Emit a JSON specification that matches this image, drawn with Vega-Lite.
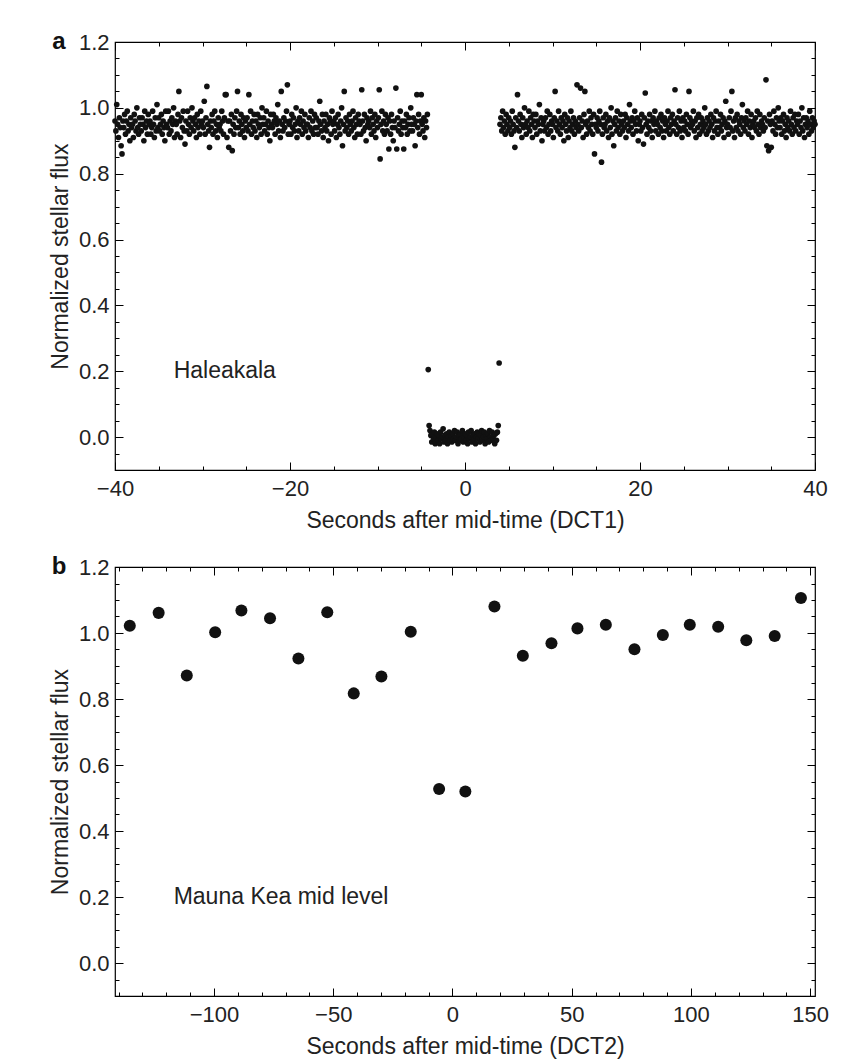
{
"$schema": "https://vega.github.io/schema/vega-lite/v6.json",
"background": "white",
"padding": {"left": 48, "top": 29, "right": 12, "bottom": 0},
"spacing": 21,
"config": {
 "view": {"stroke": "#000", "strokeWidth": 1.2},
 "axis": {"labelFont": "Liberation Sans", "labelFontSize": 22, "labelColor": "#222", "titleFont": "Liberation Sans", "titleFontSize": 23, "titleFontWeight": "normal", "titleColor": "#222", "tickColor": "#000", "tickWidth": 1, "domain": false, "grid": false, "labelOverlap": false, "labelFlush": false, "labelBound": false},
 "text": {"font": "Liberation Sans"}
},
"datasets": {
"a": [
{"t":-40,"f":0.96},{"t":-39.9,"f":0.93},{"t":-39.8,"f":1.01},{"t":-39.7,"f":0.95},{"t":-39.6,"f":0.91},{"t":-39.5,"f":0.97},{"t":-39.4,"f":0.94},{"t":-39.3,"f":0.885},{"t":-39.2,"f":0.86},{"t":-39.1,"f":0.96},
{"t":-39,"f":0.94},{"t":-38.9,"f":0.98},{"t":-38.8,"f":0.92},{"t":-38.7,"f":0.96},{"t":-38.6,"f":0.99},{"t":-38.5,"f":0.93},{"t":-38.4,"f":0.95},{"t":-38.3,"f":0.9},{"t":-38.2,"f":0.97},{"t":-38.1,"f":0.94},
{"t":-38,"f":0.95},{"t":-37.9,"f":0.91},{"t":-37.8,"f":0.98},{"t":-37.7,"f":0.96},{"t":-37.6,"f":0.93},{"t":-37.5,"f":1.0},{"t":-37.4,"f":0.94},{"t":-37.3,"f":0.92},{"t":-37.2,"f":0.97},{"t":-37.1,"f":0.95},
{"t":-37,"f":0.93},{"t":-36.9,"f":0.97},{"t":-36.8,"f":0.95},{"t":-36.7,"f":0.9},{"t":-36.6,"f":0.99},{"t":-36.5,"f":0.94},{"t":-36.4,"f":0.96},{"t":-36.3,"f":0.92},{"t":-36.2,"f":0.98},{"t":-36.1,"f":0.95},
{"t":-36,"f":0.96},{"t":-35.9,"f":0.92},{"t":-35.8,"f":0.94},{"t":-35.7,"f":0.99},{"t":-35.6,"f":0.95},{"t":-35.5,"f":0.91},{"t":-35.4,"f":0.97},{"t":-35.3,"f":0.93},{"t":-35.2,"f":1.01},{"t":-35.1,"f":0.94},
{"t":-35,"f":0.97},{"t":-34.9,"f":0.93},{"t":-34.8,"f":0.95},{"t":-34.7,"f":0.98},{"t":-34.6,"f":0.92},{"t":-34.5,"f":0.96},{"t":-34.4,"f":0.94},{"t":-34.3,"f":0.9},{"t":-34.2,"f":0.99},{"t":-34.1,"f":0.95},
{"t":-34,"f":0.94},{"t":-33.9,"f":0.99},{"t":-33.8,"f":0.92},{"t":-33.7,"f":0.96},{"t":-33.6,"f":0.93},{"t":-33.5,"f":0.97},{"t":-33.4,"f":0.95},{"t":-33.3,"f":1.0},{"t":-33.2,"f":0.91},{"t":-33.1,"f":0.96},
{"t":-33,"f":0.95},{"t":-32.9,"f":0.92},{"t":-32.8,"f":0.98},{"t":-32.7,"f":1.05},{"t":-32.6,"f":0.96},{"t":-32.5,"f":0.91},{"t":-32.4,"f":0.97},{"t":-32.3,"f":0.94},{"t":-32.2,"f":0.99},{"t":-32.1,"f":0.93},
{"t":-32,"f":0.89},{"t":-31.9,"f":0.96},{"t":-31.8,"f":0.93},{"t":-31.7,"f":0.99},{"t":-31.6,"f":0.95},{"t":-31.5,"f":0.92},{"t":-31.4,"f":0.97},{"t":-31.3,"f":0.94},{"t":-31.2,"f":1.0},{"t":-31.1,"f":0.96},
{"t":-31,"f":0.93},{"t":-30.9,"f":0.97},{"t":-30.8,"f":0.95},{"t":-30.7,"f":0.91},{"t":-30.6,"f":0.98},{"t":-30.5,"f":0.94},{"t":-30.4,"f":0.96},{"t":-30.3,"f":0.92},{"t":-30.2,"f":0.99},{"t":-30.1,"f":0.95},
{"t":-30,"f":0.96},{"t":-29.9,"f":0.94},{"t":-29.8,"f":1.02},{"t":-29.7,"f":0.92},{"t":-29.6,"f":0.97},{"t":-29.5,"f":1.065},{"t":-29.4,"f":0.95},{"t":-29.3,"f":0.93},{"t":-29.2,"f":0.88},{"t":-29.1,"f":0.96},
{"t":-29,"f":0.94},{"t":-28.9,"f":0.98},{"t":-28.8,"f":0.92},{"t":-28.7,"f":0.96},{"t":-28.6,"f":0.99},{"t":-28.5,"f":0.93},{"t":-28.4,"f":0.95},{"t":-28.3,"f":0.91},{"t":-28.2,"f":0.97},{"t":-28.1,"f":0.94},
{"t":-28,"f":0.95},{"t":-27.9,"f":0.93},{"t":-27.8,"f":0.99},{"t":-27.7,"f":0.96},{"t":-27.6,"f":0.92},{"t":-27.5,"f":0.97},{"t":-27.4,"f":1.04},{"t":-27.3,"f":1.04},{"t":-27.2,"f":0.91},{"t":-27.1,"f":0.96},
{"t":-27,"f":0.88},{"t":-26.9,"f":0.96},{"t":-26.8,"f":0.93},{"t":-26.7,"f":0.98},{"t":-26.6,"f":0.87},{"t":-26.5,"f":0.95},{"t":-26.4,"f":0.92},{"t":-26.3,"f":0.97},{"t":-26.2,"f":0.94},{"t":-26.1,"f":0.99},
{"t":-26,"f":1.05},{"t":-25.9,"f":0.94},{"t":-25.8,"f":0.96},{"t":-25.7,"f":0.92},{"t":-25.6,"f":0.98},{"t":-25.5,"f":0.95},{"t":-25.4,"f":0.93},{"t":-25.3,"f":0.97},{"t":-25.2,"f":0.91},{"t":-25.1,"f":0.96},
{"t":-25,"f":0.94},{"t":-24.9,"f":0.97},{"t":-24.8,"f":0.93},{"t":-24.7,"f":1.04},{"t":-24.6,"f":0.95},{"t":-24.5,"f":0.99},{"t":-24.4,"f":0.92},{"t":-24.3,"f":0.96},{"t":-24.2,"f":0.94},{"t":-24.1,"f":0.98},
{"t":-24,"f":0.93},{"t":-23.9,"f":0.96},{"t":-23.8,"f":0.91},{"t":-23.7,"f":0.98},{"t":-23.6,"f":0.95},{"t":-23.5,"f":0.94},{"t":-23.4,"f":0.97},{"t":-23.3,"f":0.92},{"t":-23.2,"f":1.0},{"t":-23.1,"f":0.95},
{"t":-23,"f":0.97},{"t":-22.9,"f":0.93},{"t":-22.8,"f":0.95},{"t":-22.7,"f":0.99},{"t":-22.6,"f":0.92},{"t":-22.5,"f":0.96},{"t":-22.4,"f":0.94},{"t":-22.3,"f":0.9},{"t":-22.2,"f":0.98},{"t":-22.1,"f":0.95},
{"t":-22,"f":0.94},{"t":-21.9,"f":0.98},{"t":-21.8,"f":0.96},{"t":-21.7,"f":0.92},{"t":-21.6,"f":0.97},{"t":-21.5,"f":0.95},{"t":-21.4,"f":1.01},{"t":-21.3,"f":0.93},{"t":-21.2,"f":0.96},{"t":-21.1,"f":0.91},
{"t":-21,"f":1.05},{"t":-20.9,"f":0.95},{"t":-20.8,"f":0.93},{"t":-20.7,"f":0.97},{"t":-20.6,"f":0.94},{"t":-20.5,"f":0.96},{"t":-20.4,"f":0.99},{"t":-20.3,"f":1.07},{"t":-20.2,"f":0.92},{"t":-20.1,"f":0.95},
{"t":-20,"f":0.96},{"t":-19.9,"f":0.92},{"t":-19.8,"f":0.98},{"t":-19.7,"f":0.94},{"t":-19.6,"f":0.97},{"t":-19.5,"f":0.93},{"t":-19.4,"f":0.95},{"t":-19.3,"f":1.0},{"t":-19.2,"f":0.91},{"t":-19.1,"f":0.96},
{"t":-19,"f":0.93},{"t":-18.9,"f":0.97},{"t":-18.8,"f":0.95},{"t":-18.7,"f":0.99},{"t":-18.6,"f":0.92},{"t":-18.5,"f":0.96},{"t":-18.4,"f":0.94},{"t":-18.3,"f":0.98},{"t":-18.2,"f":0.93},{"t":-18.1,"f":0.95},
{"t":-18,"f":0.95},{"t":-17.9,"f":0.91},{"t":-17.8,"f":0.97},{"t":-17.7,"f":0.94},{"t":-17.6,"f":0.99},{"t":-17.5,"f":0.93},{"t":-17.4,"f":0.96},{"t":-17.3,"f":0.92},{"t":-17.2,"f":0.98},{"t":-17.1,"f":0.94},
{"t":-17,"f":0.97},{"t":-16.9,"f":0.94},{"t":-16.8,"f":0.92},{"t":-16.7,"f":0.96},{"t":-16.6,"f":1.02},{"t":-16.5,"f":0.95},{"t":-16.4,"f":0.93},{"t":-16.3,"f":0.98},{"t":-16.2,"f":0.91},{"t":-16.1,"f":0.96},
{"t":-16,"f":0.94},{"t":-15.9,"f":0.98},{"t":-15.8,"f":0.93},{"t":-15.7,"f":0.95},{"t":-15.6,"f":0.9},{"t":-15.5,"f":0.97},{"t":-15.4,"f":0.96},{"t":-15.3,"f":0.92},{"t":-15.2,"f":0.99},{"t":-15.1,"f":0.95},
{"t":-15,"f":0.96},{"t":-14.9,"f":0.93},{"t":-14.8,"f":0.97},{"t":-14.7,"f":0.91},{"t":-14.6,"f":0.95},{"t":-14.5,"f":0.98},{"t":-14.4,"f":0.94},{"t":-14.3,"f":0.92},{"t":-14.2,"f":0.96},{"t":-14.1,"f":1.0},
{"t":-14,"f":0.885},{"t":-13.9,"f":0.95},{"t":-13.8,"f":1.05},{"t":-13.7,"f":0.93},{"t":-13.6,"f":0.97},{"t":-13.5,"f":0.94},{"t":-13.4,"f":0.96},{"t":-13.3,"f":0.92},{"t":-13.2,"f":0.98},{"t":-13.1,"f":0.95},
{"t":-13,"f":0.93},{"t":-12.9,"f":0.96},{"t":-12.8,"f":0.99},{"t":-12.7,"f":0.94},{"t":-12.6,"f":0.91},{"t":-12.5,"f":0.97},{"t":-12.4,"f":0.95},{"t":-12.3,"f":0.92},{"t":-12.2,"f":0.98},{"t":-12.1,"f":0.96},
{"t":-12,"f":0.95},{"t":-11.9,"f":0.92},{"t":-11.8,"f":1.055},{"t":-11.7,"f":0.96},{"t":-11.6,"f":0.93},{"t":-11.5,"f":0.98},{"t":-11.4,"f":0.94},{"t":-11.3,"f":0.9},{"t":-11.2,"f":0.97},{"t":-11.1,"f":0.95},
{"t":-11,"f":0.96},{"t":-10.9,"f":0.94},{"t":-10.8,"f":0.99},{"t":-10.7,"f":0.92},{"t":-10.6,"f":0.97},{"t":-10.5,"f":0.95},{"t":-10.4,"f":0.93},{"t":-10.3,"f":0.98},{"t":-10.2,"f":0.91},{"t":-10.1,"f":0.96},
{"t":-10,"f":0.94},{"t":-9.9,"f":0.97},{"t":-9.8,"f":1.055},{"t":-9.7,"f":0.845},{"t":-9.6,"f":0.95},{"t":-9.5,"f":0.99},{"t":-9.4,"f":0.93},{"t":-9.3,"f":0.96},{"t":-9.2,"f":0.92},{"t":-9.1,"f":0.98},
{"t":-9,"f":0.95},{"t":-8.9,"f":0.93},{"t":-8.8,"f":0.97},{"t":-8.7,"f":0.875},{"t":-8.6,"f":0.96},{"t":-8.5,"f":0.92},{"t":-8.4,"f":0.98},{"t":-8.3,"f":0.94},{"t":-8.2,"f":0.9},{"t":-8.1,"f":0.96},
{"t":-8,"f":0.94},{"t":-7.9,"f":1.06},{"t":-7.8,"f":0.875},{"t":-7.7,"f":0.97},{"t":-7.6,"f":0.93},{"t":-7.5,"f":0.95},{"t":-7.4,"f":0.99},{"t":-7.3,"f":0.92},{"t":-7.2,"f":0.96},{"t":-7.1,"f":0.94},
{"t":-7,"f":0.875},{"t":-6.9,"f":0.96},{"t":-6.8,"f":0.94},{"t":-6.7,"f":0.98},{"t":-6.6,"f":0.92},{"t":-6.5,"f":0.95},{"t":-6.4,"f":0.97},{"t":-6.3,"f":0.93},{"t":-6.2,"f":1.0},{"t":-6.1,"f":0.95},
{"t":-6,"f":0.93},{"t":-5.9,"f":0.97},{"t":-5.8,"f":0.95},{"t":-5.7,"f":0.885},{"t":-5.6,"f":0.96},{"t":-5.5,"f":1.04},{"t":-5.4,"f":0.94},{"t":-5.3,"f":0.98},{"t":-5.2,"f":0.92},{"t":-5.1,"f":0.96},
{"t":-5,"f":1.04},{"t":-4.9,"f":0.95},{"t":-4.8,"f":0.93},{"t":-4.7,"f":0.97},{"t":-4.6,"f":0.91},{"t":-4.5,"f":0.96},{"t":-4.4,"f":0.94},{"t":-4.3,"f":0.98},
{"t":-4.2,"f":0.205},
{"t":-4.1,"f":0.035},{"t":-4,"f":0.02},{"t":-3.9,"f":0.005},{"t":-3.8,"f":-0.015},{"t":-3.7,"f":0.01},{"t":-3.6,"f":-0.005},{"t":-3.5,"f":0.015},{"t":-3.4,"f":-0.02},{"t":-3.3,"f":0},{"t":-3.2,"f":0.01},
{"t":-3.1,"f":-0.01},{"t":-3,"f":0.005},{"t":-2.9,"f":-0.02},{"t":-2.8,"f":0.015},{"t":-2.7,"f":-0.005},{"t":-2.6,"f":0},{"t":-2.5,"f":0.025},{"t":-2.4,"f":-0.015},{"t":-2.3,"f":0.005},{"t":-2.2,"f":-0.01},
{"t":-2.1,"f":0.01},{"t":-2,"f":-0.02},{"t":-1.9,"f":0},{"t":-1.8,"f":0.015},{"t":-1.7,"f":-0.01},{"t":-1.6,"f":0.005},{"t":-1.5,"f":-0.015},{"t":-1.4,"f":0.01},{"t":-1.3,"f":-0.005},{"t":-1.2,"f":0.02},
{"t":-1.1,"f":-0.01},{"t":-1,"f":0},{"t":-0.9,"f":0.015},{"t":-0.8,"f":-0.02},{"t":-0.7,"f":0.005},{"t":-0.6,"f":-0.01},{"t":-0.5,"f":0.01},{"t":-0.4,"f":-0.005},{"t":-0.3,"f":0.02},{"t":-0.2,"f":-0.015},
{"t":-0.1,"f":0},{"t":0,"f":0.01},{"t":0.1,"f":-0.01},{"t":0.2,"f":0.005},{"t":0.3,"f":-0.02},{"t":0.4,"f":0.015},{"t":0.5,"f":-0.005},{"t":0.6,"f":0},{"t":0.7,"f":0.02},{"t":0.8,"f":-0.015},
{"t":0.9,"f":0.005},{"t":1,"f":-0.01},{"t":1.1,"f":0.01},{"t":1.2,"f":-0.02},{"t":1.3,"f":0},{"t":1.4,"f":0.015},{"t":1.5,"f":-0.005},{"t":1.6,"f":0.01},{"t":1.7,"f":-0.015},{"t":1.8,"f":0.005},
{"t":1.9,"f":0.02},{"t":2,"f":-0.01},{"t":2.1,"f":0},{"t":2.2,"f":0.015},{"t":2.3,"f":-0.02},{"t":2.4,"f":0.005},{"t":2.5,"f":-0.005},{"t":2.6,"f":0.01},{"t":2.7,"f":-0.015},{"t":2.8,"f":0.02},
{"t":2.9,"f":0},{"t":3,"f":-0.01},{"t":3.1,"f":0.015},{"t":3.2,"f":-0.005},{"t":3.3,"f":0.005},{"t":3.4,"f":-0.02},{"t":3.5,"f":0.01},{"t":3.6,"f":-0.01},{"t":3.7,"f":0.015},{"t":3.8,"f":0.035},
{"t":3.9,"f":0.225},
{"t":4,"f":0.95},{"t":4.1,"f":0.97},{"t":4.2,"f":0.93},{"t":4.3,"f":0.99},{"t":4.4,"f":0.94},{"t":4.5,"f":0.96},{"t":4.6,"f":0.92},{"t":4.7,"f":0.98},{"t":4.8,"f":0.95},{"t":4.9,"f":0.93},
{"t":5,"f":0.97},{"t":5.1,"f":0.94},{"t":5.2,"f":0.96},{"t":5.3,"f":0.92},{"t":5.4,"f":0.99},{"t":5.5,"f":0.95},{"t":5.6,"f":0.93},{"t":5.7,"f":0.88},{"t":5.8,"f":0.97},{"t":5.9,"f":0.94},
{"t":6,"f":1.04},{"t":6.1,"f":0.96},{"t":6.2,"f":0.93},{"t":6.3,"f":0.98},{"t":6.4,"f":0.95},{"t":6.5,"f":0.91},{"t":6.6,"f":0.97},{"t":6.7,"f":0.94},{"t":6.8,"f":1.0},{"t":6.9,"f":0.95},
{"t":7,"f":0.92},{"t":7.1,"f":0.96},{"t":7.2,"f":0.94},{"t":7.3,"f":0.99},{"t":7.4,"f":0.93},{"t":7.5,"f":0.97},{"t":7.6,"f":0.95},{"t":7.7,"f":0.91},{"t":7.8,"f":0.98},{"t":7.9,"f":0.96},
{"t":8,"f":0.94},{"t":8.1,"f":0.98},{"t":8.2,"f":0.92},{"t":8.3,"f":0.96},{"t":8.4,"f":0.95},{"t":8.5,"f":1.01},{"t":8.6,"f":0.93},{"t":8.7,"f":0.97},{"t":8.8,"f":0.9},{"t":8.9,"f":0.95},
{"t":9,"f":0.96},{"t":9.1,"f":0.93},{"t":9.2,"f":0.97},{"t":9.3,"f":0.94},{"t":9.4,"f":0.99},{"t":9.5,"f":0.92},{"t":9.6,"f":0.95},{"t":9.7,"f":0.98},{"t":9.8,"f":0.93},{"t":9.9,"f":0.96},
{"t":10,"f":0.95},{"t":10.1,"f":0.91},{"t":10.2,"f":0.97},{"t":10.3,"f":1.05},{"t":10.4,"f":0.94},{"t":10.5,"f":0.96},{"t":10.6,"f":0.93},{"t":10.7,"f":0.99},{"t":10.8,"f":0.95},{"t":10.9,"f":0.92},
{"t":11,"f":0.97},{"t":11.1,"f":0.94},{"t":11.2,"f":0.96},{"t":11.3,"f":0.9},{"t":11.4,"f":0.98},{"t":11.5,"f":0.95},{"t":11.6,"f":0.93},{"t":11.7,"f":0.97},{"t":11.8,"f":0.91},{"t":11.9,"f":0.96},
{"t":12,"f":0.94},{"t":12.1,"f":0.99},{"t":12.2,"f":0.93},{"t":12.3,"f":0.95},{"t":12.4,"f":0.97},{"t":12.5,"f":0.92},{"t":12.6,"f":0.96},{"t":12.7,"f":0.94},{"t":12.8,"f":1.07},{"t":12.9,"f":0.95},
{"t":13,"f":0.93},{"t":13.1,"f":0.97},{"t":13.2,"f":1.06},{"t":13.3,"f":0.94},{"t":13.4,"f":0.96},{"t":13.5,"f":0.91},{"t":13.6,"f":0.98},{"t":13.7,"f":1.05},{"t":13.8,"f":0.95},{"t":13.9,"f":0.92},
{"t":14,"f":0.96},{"t":14.1,"f":0.94},{"t":14.2,"f":0.99},{"t":14.3,"f":0.93},{"t":14.4,"f":0.97},{"t":14.5,"f":0.95},{"t":14.6,"f":0.92},{"t":14.7,"f":0.98},{"t":14.8,"f":0.86},{"t":14.9,"f":0.95},
{"t":15,"f":0.94},{"t":15.1,"f":0.97},{"t":15.2,"f":0.93},{"t":15.3,"f":0.96},{"t":15.4,"f":0.99},{"t":15.5,"f":0.95},{"t":15.6,"f":0.835},{"t":15.7,"f":0.92},{"t":15.8,"f":0.97},{"t":15.9,"f":0.94},
{"t":16,"f":0.95},{"t":16.1,"f":0.98},{"t":16.2,"f":0.93},{"t":16.3,"f":0.96},{"t":16.4,"f":0.91},{"t":16.5,"f":0.97},{"t":16.6,"f":0.94},{"t":16.7,"f":1.0},{"t":16.8,"f":0.92},{"t":16.9,"f":0.96},
{"t":17,"f":0.885},{"t":17.1,"f":0.95},{"t":17.2,"f":0.97},{"t":17.3,"f":0.93},{"t":17.4,"f":0.99},{"t":17.5,"f":0.94},{"t":17.6,"f":0.96},{"t":17.7,"f":0.92},{"t":17.8,"f":0.98},{"t":17.9,"f":0.95},
{"t":18,"f":0.93},{"t":18.1,"f":0.96},{"t":18.2,"f":0.94},{"t":18.3,"f":0.98},{"t":18.4,"f":0.91},{"t":18.5,"f":0.97},{"t":18.6,"f":0.95},{"t":18.7,"f":0.93},{"t":18.8,"f":1.01},{"t":18.9,"f":0.96},
{"t":19,"f":0.94},{"t":19.1,"f":0.97},{"t":19.2,"f":0.92},{"t":19.3,"f":0.96},{"t":19.4,"f":0.99},{"t":19.5,"f":0.95},{"t":19.6,"f":0.93},{"t":19.7,"f":0.97},{"t":19.8,"f":0.9},{"t":19.9,"f":0.95},
{"t":20,"f":0.96},{"t":20.1,"f":0.93},{"t":20.2,"f":0.98},{"t":20.3,"f":0.94},{"t":20.4,"f":0.89},{"t":20.5,"f":0.97},{"t":20.6,"f":1.045},{"t":20.7,"f":0.95},{"t":20.8,"f":0.92},{"t":20.9,"f":0.96},
{"t":21,"f":0.94},{"t":21.1,"f":0.98},{"t":21.2,"f":0.93},{"t":21.3,"f":0.96},{"t":21.4,"f":0.91},{"t":21.5,"f":0.97},{"t":21.6,"f":0.95},{"t":21.7,"f":0.99},{"t":21.8,"f":0.93},{"t":21.9,"f":0.96},
{"t":22,"f":0.95},{"t":22.1,"f":0.92},{"t":22.2,"f":0.97},{"t":22.3,"f":0.94},{"t":22.4,"f":0.98},{"t":22.5,"f":0.93},{"t":22.6,"f":0.96},{"t":22.7,"f":0.91},{"t":22.8,"f":0.97},{"t":22.9,"f":0.95},
{"t":23,"f":0.93},{"t":23.1,"f":0.96},{"t":23.2,"f":0.99},{"t":23.3,"f":0.94},{"t":23.4,"f":0.92},{"t":23.5,"f":0.97},{"t":23.6,"f":0.95},{"t":23.7,"f":0.98},{"t":23.8,"f":0.93},{"t":23.9,"f":0.96},
{"t":24,"f":1.055},{"t":24.1,"f":0.95},{"t":24.2,"f":0.92},{"t":24.3,"f":0.97},{"t":24.4,"f":0.94},{"t":24.5,"f":0.99},{"t":24.6,"f":0.93},{"t":24.7,"f":0.96},{"t":24.8,"f":0.91},{"t":24.9,"f":0.97},
{"t":25,"f":0.94},{"t":25.1,"f":0.96},{"t":25.2,"f":0.93},{"t":25.3,"f":0.98},{"t":25.4,"f":0.95},{"t":25.5,"f":0.92},{"t":25.6,"f":1.05},{"t":25.7,"f":0.97},{"t":25.8,"f":0.94},{"t":25.9,"f":0.96},
{"t":26,"f":0.95},{"t":26.1,"f":0.99},{"t":26.2,"f":0.93},{"t":26.3,"f":0.96},{"t":26.4,"f":0.91},{"t":26.5,"f":0.97},{"t":26.6,"f":0.94},{"t":26.7,"f":0.98},{"t":26.8,"f":0.92},{"t":26.9,"f":0.95},
{"t":27,"f":0.97},{"t":27.1,"f":0.93},{"t":27.2,"f":0.96},{"t":27.3,"f":0.94},{"t":27.4,"f":1.0},{"t":27.5,"f":0.95},{"t":27.6,"f":0.92},{"t":27.7,"f":0.97},{"t":27.8,"f":0.93},{"t":27.9,"f":0.96},
{"t":28,"f":0.94},{"t":28.1,"f":0.98},{"t":28.2,"f":0.95},{"t":28.3,"f":0.91},{"t":28.4,"f":0.97},{"t":28.5,"f":0.93},{"t":28.6,"f":0.96},{"t":28.7,"f":0.99},{"t":28.8,"f":0.94},{"t":28.9,"f":0.92},
{"t":29,"f":0.96},{"t":29.1,"f":0.94},{"t":29.2,"f":0.98},{"t":29.3,"f":0.93},{"t":29.4,"f":0.95},{"t":29.5,"f":0.97},{"t":29.6,"f":0.91},{"t":29.7,"f":0.96},{"t":29.8,"f":1.02},{"t":29.9,"f":0.94},
{"t":30,"f":0.95},{"t":30.1,"f":0.92},{"t":30.2,"f":0.97},{"t":30.3,"f":0.94},{"t":30.4,"f":0.99},{"t":30.5,"f":1.05},{"t":30.6,"f":0.93},{"t":30.7,"f":0.96},{"t":30.8,"f":0.91},{"t":30.9,"f":0.97},
{"t":31,"f":0.94},{"t":31.1,"f":0.98},{"t":31.2,"f":0.93},{"t":31.3,"f":0.96},{"t":31.4,"f":0.95},{"t":31.5,"f":0.92},{"t":31.6,"f":0.97},{"t":31.7,"f":1.01},{"t":31.8,"f":0.94},{"t":31.9,"f":0.96},
{"t":32,"f":0.93},{"t":32.1,"f":0.97},{"t":32.2,"f":0.95},{"t":32.3,"f":0.99},{"t":32.4,"f":0.92},{"t":32.5,"f":0.96},{"t":32.6,"f":0.94},{"t":32.7,"f":0.98},{"t":32.8,"f":0.91},{"t":32.9,"f":0.95},
{"t":33,"f":0.96},{"t":33.1,"f":0.94},{"t":33.2,"f":0.97},{"t":33.3,"f":0.93},{"t":33.4,"f":0.99},{"t":33.5,"f":0.95},{"t":33.6,"f":0.92},{"t":33.7,"f":0.98},{"t":33.8,"f":0.94},{"t":33.9,"f":0.96},
{"t":34,"f":0.95},{"t":34.1,"f":0.93},{"t":34.2,"f":0.97},{"t":34.3,"f":0.94},{"t":34.4,"f":1.085},{"t":34.5,"f":0.885},{"t":34.6,"f":0.96},{"t":34.7,"f":0.87},{"t":34.8,"f":0.98},{"t":34.9,"f":0.95},
{"t":35,"f":0.88},{"t":35.1,"f":0.96},{"t":35.2,"f":0.93},{"t":35.3,"f":0.99},{"t":35.4,"f":0.95},{"t":35.5,"f":0.92},{"t":35.6,"f":0.97},{"t":35.7,"f":0.94},{"t":35.8,"f":1.0},{"t":35.9,"f":0.96},
{"t":36,"f":0.94},{"t":36.1,"f":0.97},{"t":36.2,"f":0.92},{"t":36.3,"f":0.96},{"t":36.4,"f":0.98},{"t":36.5,"f":0.93},{"t":36.6,"f":0.95},{"t":36.7,"f":0.91},{"t":36.8,"f":0.97},{"t":36.9,"f":0.94},
{"t":37,"f":0.96},{"t":37.1,"f":0.93},{"t":37.2,"f":0.99},{"t":37.3,"f":0.95},{"t":37.4,"f":0.92},{"t":37.5,"f":0.97},{"t":37.6,"f":0.94},{"t":37.7,"f":0.98},{"t":37.8,"f":0.93},{"t":37.9,"f":0.96},
{"t":38,"f":0.95},{"t":38.1,"f":0.98},{"t":38.2,"f":0.92},{"t":38.3,"f":0.96},{"t":38.4,"f":0.94},{"t":38.5,"f":1.0},{"t":38.6,"f":0.93},{"t":38.7,"f":0.97},{"t":38.8,"f":0.91},{"t":38.9,"f":0.95},
{"t":39,"f":0.97},{"t":39.1,"f":0.94},{"t":39.2,"f":0.96},{"t":39.3,"f":0.92},{"t":39.4,"f":0.99},{"t":39.5,"f":0.95},{"t":39.6,"f":0.93},{"t":39.7,"f":0.97},{"t":39.8,"f":0.94},{"t":39.9,"f":0.96},
{"t":40,"f":0.95}
],
"b": [
{"t":-135.3,"f":1.022},{"t":-123.2,"f":1.061},{"t":-111.4,"f":0.871},{"t":-99.5,"f":1.002},{"t":-88.5,"f":1.068},{"t":-76.5,"f":1.045},{"t":-64.6,"f":0.923},{"t":-52.5,"f":1.063},{"t":-41.4,"f":0.817},{"t":-29.8,"f":0.868},{"t":-17.5,"f":1.004},{"t":-5.6,"f":0.527},{"t":5.4,"f":0.52},{"t":17.6,"f":1.08},{"t":29.5,"f":0.931},{"t":41.5,"f":0.969},{"t":52.4,"f":1.014},{"t":64.3,"f":1.025},{"t":76.3,"f":0.951},{"t":88.2,"f":0.994},{"t":99.5,"f":1.025},{"t":111.4,"f":1.019},{"t":123.2,"f":0.978},{"t":135.1,"f":0.991},{"t":146.1,"f":1.106}
]
},
"vconcat": [
{
 "width": 700, "height": 428,
 "resolve": {"axis": {"x": "independent", "y": "independent"}},
 "layer": [
  {
   "data": {"name": "a"},
   "mark": {"type": "circle", "size": 32, "color": "#111", "opacity": 1},
   "encoding": {
    "x": {"field": "t", "type": "quantitative", "scale": {"domain": [-40, 40], "nice": false, "zero": false},
     "axis": {"orient": "bottom", "values": [-40,-35,-30,-25,-20,-15,-10,-5,0,5,10,15,20,25,30,35,40],
      "tickSize": {"condition": {"test": "datum.value % 20 === 0", "value": -8}, "value": -4},
      "labelExpr": "datum.value % 20 === 0 ? datum.label : ''", "labelPadding": 16, "title": "Seconds after mid-time (DCT1)", "titlePadding": 6}},
    "y": {"field": "f", "type": "quantitative", "scale": {"domain": [-0.1, 1.2], "nice": false, "zero": false},
     "axis": {"orient": "left", "values": [-0.05,0,0.05,0.1,0.15,0.2,0.25,0.3,0.35,0.4,0.45,0.5,0.55,0.6,0.65,0.7,0.75,0.8,0.85,0.9,0.95,1,1.05,1.1,1.15,1.2], "format": ".1f",
      "tickSize": {"condition": {"test": "abs(round(datum.value*100)) % 20 === 0", "value": -8}, "value": -4},
      "labelExpr": "abs(round(datum.value*100)) % 20 === 0 ? datum.label : ''", "labelPadding": 14, "title": "Normalized stellar flux", "titlePadding": 6}}
   }
  },
  {
   "data": {"values": [{}]},
   "mark": {"type": "text", "text": "Haleakala", "align": "left", "baseline": "middle", "fontSize": 23, "color": "#222"},
   "encoding": {
    "x": {"datum": -33.3, "type": "quantitative", "axis": {"orient": "top", "values": [-40,-35,-30,-25,-20,-15,-10,-5,0,5,10,15,20,25,30,35,40], "tickSize": {"condition": {"test": "datum.value % 20 === 0", "value": -8}, "value": -4}, "labels": false, "title": null}},
    "y": {"datum": 0.2, "type": "quantitative", "axis": {"orient": "right", "values": [-0.05,0,0.05,0.1,0.15,0.2,0.25,0.3,0.35,0.4,0.45,0.5,0.55,0.6,0.65,0.7,0.75,0.8,0.85,0.9,0.95,1,1.05,1.1,1.15,1.2], "tickSize": {"condition": {"test": "abs(round(datum.value*100)) % 20 === 0", "value": -8}, "value": -4}, "labels": false, "title": null}}
   }
  },
  {
   "data": {"values": [{}]},
   "mark": {"type": "text", "text": "a", "align": "center", "baseline": "middle", "fontSize": 24, "fontWeight": "bold", "color": "#111"},
   "encoding": {
    "x": {"datum": -46.4, "type": "quantitative", "axis": null},
    "y": {"datum": 1.2, "type": "quantitative", "axis": null}
   }
  }
 ]
},
{
 "width": 700, "height": 429,
 "resolve": {"axis": {"x": "independent", "y": "independent"}},
 "layer": [
  {
   "data": {"name": "b"},
   "mark": {"type": "circle", "size": 145, "color": "#111", "opacity": 1},
   "encoding": {
    "x": {"field": "t", "type": "quantitative", "scale": {"domain": [-141.5, 152], "nice": false, "zero": false},
     "axis": {"orient": "bottom", "values": [-140,-130,-120,-110,-100,-90,-80,-70,-60,-50,-40,-30,-20,-10,0,10,20,30,40,50,60,70,80,90,100,110,120,130,140,150],
      "tickSize": {"condition": {"test": "datum.value % 50 === 0", "value": -8}, "value": -4},
      "labelExpr": "datum.value % 50 === 0 ? datum.label : ''", "labelPadding": 16, "title": "Seconds after mid-time (DCT2)", "titlePadding": 6}},
    "y": {"field": "f", "type": "quantitative", "scale": {"domain": [-0.1, 1.2], "nice": false, "zero": false},
     "axis": {"orient": "left", "values": [-0.05,0,0.05,0.1,0.15,0.2,0.25,0.3,0.35,0.4,0.45,0.5,0.55,0.6,0.65,0.7,0.75,0.8,0.85,0.9,0.95,1,1.05,1.1,1.15,1.2], "format": ".1f",
      "tickSize": {"condition": {"test": "abs(round(datum.value*100)) % 20 === 0", "value": -8}, "value": -4},
      "labelExpr": "abs(round(datum.value*100)) % 20 === 0 ? datum.label : ''", "labelPadding": 14, "title": "Normalized stellar flux", "titlePadding": 6}}
   }
  },
  {
   "data": {"values": [{}]},
   "mark": {"type": "text", "text": "Mauna Kea mid level", "align": "left", "baseline": "middle", "fontSize": 23, "color": "#222"},
   "encoding": {
    "x": {"datum": -116.9, "type": "quantitative", "axis": {"orient": "top", "values": [-140,-130,-120,-110,-100,-90,-80,-70,-60,-50,-40,-30,-20,-10,0,10,20,30,40,50,60,70,80,90,100,110,120,130,140,150], "tickSize": {"condition": {"test": "datum.value % 50 === 0", "value": -8}, "value": -4}, "labels": false, "title": null}},
    "y": {"datum": 0.2, "type": "quantitative", "axis": {"orient": "right", "values": [-0.05,0,0.05,0.1,0.15,0.2,0.25,0.3,0.35,0.4,0.45,0.5,0.55,0.6,0.65,0.7,0.75,0.8,0.85,0.9,0.95,1,1.05,1.1,1.15,1.2], "tickSize": {"condition": {"test": "abs(round(datum.value*100)) % 20 === 0", "value": -8}, "value": -4}, "labels": false, "title": null}}
   }
  },
  {
   "data": {"values": [{}]},
   "mark": {"type": "text", "text": "b", "align": "center", "baseline": "middle", "fontSize": 24, "fontWeight": "bold", "color": "#111"},
   "encoding": {
    "x": {"datum": -164.9, "type": "quantitative", "axis": null},
    "y": {"datum": 1.2, "type": "quantitative", "axis": null}
   }
  }
 ]
}
]
}
